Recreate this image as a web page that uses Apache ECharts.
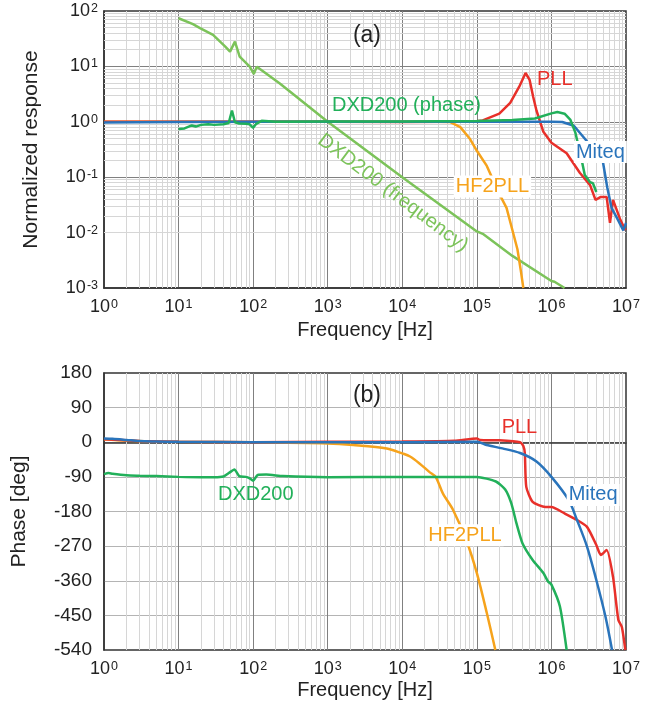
<!DOCTYPE html>
<html><head><meta charset="utf-8">
<script src="https://cdn.jsdelivr.net/npm/echarts@6/dist/echarts.min.js"></script>
<style>html,body{margin:0;padding:0;background:#fff}#c{width:647px;height:714px}</style>
</head><body><div id="c"></div>
<script>
// ---------- Panel (a): normalized response ----------
const magPllF = [1, 3, 10, 100, 1e3, 1e4, 5e4, 1e5, 1.2e5, 2e5, 2.8e5, 3.7e5, 4.5e5, 5.1e5, 5.7e5, 6.3e5, 7.8e5, 1e6, 1.6e6, 2.4e6, 3.3e6, 3.9e6, 4.6e6, 5.5e6, 6.1e6, 6.7e6, 8.4e6, 9.8e6];
const magPllV = [1.0, 1.0, 1.0, 1.0, 1.0, 0.99, 1.0, 1.02, 1.06, 1.4, 2.2, 4.3, 7.6, 5.7, 2.8, 1.6, 0.66, 0.42, 0.27, 0.12, 0.072, 0.039, 0.044, 0.044, 0.015, 0.039, 0.017, 0.011];

const magMiteqF = [1, 3, 10, 100, 1e3, 1e4, 1e5, 5e5, 1e6, 1.4e6, 2e6, 2.9e6, 3.8e6, 4.9e6, 5.6e6, 6.4e6, 7.8e6, 9.2e6, 1e7];
const magMiteqV = [0.97, 0.98, 0.99, 1.0, 1.0, 1.0, 1.0, 1.0, 1.0, 0.99, 0.85, 0.47, 0.3, 0.19, 0.066, 0.028, 0.017, 0.011, 0.015];

const magHf2F = [1, 10, 100, 1e3, 1e4, 3e4, 4.4e4, 6e4, 8e4, 1e5, 1.36e5, 2e5, 2.5e5, 3e5, 3.5e5, 3.9e5, 4.2e5];
const magHf2V = [1.0, 1.0, 1.0, 1.0, 1.0, 1.0, 0.99, 0.8, 0.5, 0.3, 0.16, 0.05, 0.028, 0.011, 0.005, 0.002, 0.001];

const magDxdPhF = [10, 12, 15, 17, 20, 25, 30, 40, 47, 52, 57, 65, 80, 90, 100, 110, 130, 200, 1e3, 1e4, 1e5, 3e5, 6e5, 1e6, 1.2e6, 1.5e6, 1.8e6, 2.1e6, 2.5e6, 2.8e6, 3.3e6, 3.6e6, 4e6];
const magDxdPhV = [0.74, 0.76, 0.86, 0.82, 0.88, 0.9, 0.88, 0.9, 0.95, 1.6, 0.98, 0.93, 0.92, 0.9, 0.78, 0.92, 1.04, 1.0, 1.01, 1.01, 1.03, 1.08, 1.15, 1.42, 1.5, 1.4, 1.08, 0.63, 0.23, 0.11, 0.081, 0.078, 0.054];

const magDxdFrF = [10, 15.6, 19.4, 29, 42, 49, 57, 66, 90, 102, 112, 228, 1e3, 1e4, 1e5, 1.2e5, 3e5, 1e6, 1.1e6, 1.5e6];
const magDxdFrV = [74, 58, 49, 37, 23, 18.5, 28, 15, 9.9, 7.3, 9.9, 4.9, 1.0, 0.1, 0.0105, 0.0095, 0.0038, 0.00134, 0.0013, 0.001];

// ---------- Panel (b): phase ----------
const phPllF = [1, 2, 3, 10, 100, 1e3, 1e4, 5e4, 1e5, 1.1e5, 2e5, 3.8e5, 4.2e5, 4.4e5, 4.6e5, 5.6e5, 8.3e5, 1e6, 1.5e6, 2.2e6, 3e6, 4e6, 4.6e6, 5.5e6, 6.7e6, 7.9e6, 8.8e6, 9.8e6];
const phPllV = [8, 5, 3, 1, 0, 1, 2, 4, 10, 6, 5, 0, -10, -29, -116, -155, -168, -168, -185, -202, -220, -267, -293, -280, -350, -462, -480, -540];

const phMiteqF = [1, 1.3, 2, 3, 5, 10, 100, 1e3, 1e4, 1e5, 1.35e5, 2.2e5, 3.8e5, 6.3e5, 1e6, 1.7e6, 2.2e6, 3e6, 4e6, 5.3e6, 6.5e6];
const phMiteqV = [10, 9, 6, 3, 2, 1, 0, 0, 0, 1, -7, -16, -28, -50, -90, -150, -202, -271, -358, -453, -540];

const phHf2F = [1, 2, 10, 100, 1e3, 2.2e3, 6.2e3, 1e4, 1.27e4, 1.7e4, 2.3e4, 2.8e4, 3.5e4, 4.8e4, 7.2e4, 1e5, 1.36e5, 1.77e5];
const phHf2V = [8, 4, 1, 0, -3, -7, -16, -29, -37, -55, -77, -90, -133, -176, -254, -340, -444, -540];

const phDxdF = [1, 1.15, 1.3, 2, 3, 5, 10, 20, 30, 40, 48, 56, 65, 80, 90, 100, 115, 150, 250, 1e3, 1e4, 1e5, 1.8e5, 2.4e5, 2.9e5, 3.4e5, 4.1e5, 5.6e5, 7.8e5, 9e5, 1e6, 1.3e6, 1.6e6];
const phDxdV = [-83, -80, -82, -86, -87, -88, -90, -91, -91, -89, -79, -71, -88, -90, -94, -100, -85, -84, -88, -91, -90, -90, -102, -123, -159, -211, -263, -306, -340, -362, -370, -427, -540];

// ---------- axis ticks ----------
const phaseTicks = [180, 90, 0, -90, -180, -270, -360, -450, -540];

const FONT = "'Liberation Sans', Arial, Helvetica, sans-serif";
const C = { pll: '#e8302a', miteq: '#2a74bb', hf2: '#f6a31c', dxd: '#22b05a', dxdf: '#7cc35a' };

const zip = (f, v) => f.map((x, i) => [x, v[i]]);

function minorVals(d0, d1) {
  const out = [];
  for (let d = d0; d <= d1; d++) for (let k = 2; k <= 9; k++) out.push(+(k * Math.pow(10, d)).toPrecision(3));
  return out;
}

const powFmt = v => '{b|10}{s|' + Math.round(Math.log10(v)) + '}';
const richPow = {
  b: { fontSize: 18, fontFamily: FONT, color: '#222', lineHeight: 20 },
  s: { fontSize: 12.5, fontFamily: FONT, color: '#222', lineHeight: 13, verticalAlign: 'top', padding: [1, 0, 0, 1] }
};

function xAxisDef(gi, gap) {
  return {
    gridIndex: gi, type: 'log', logBase: 10, min: 1, max: 1e7,
    name: 'Frequency [Hz]', nameLocation: 'middle', nameGap: gap,
    nameTextStyle: { fontSize: 20, color: '#222', fontFamily: FONT },
    axisLine: { show: true, lineStyle: { color: '#333', width: 1.5 } },
    axisTick: { show: false },
    axisLabel: { formatter: powFmt, rich: richPow, margin: 9 },
    splitLine: { show: true, showMinLine: false, showMaxLine: false, lineStyle: { color: '#808080', width: 1 } }
  };
}

const gridLineStyle = { color: '#d6d6d6', width: 1, type: 'solid' };

function helper(gi, xMinor, yMinor, labels) {
  const ml = [];
  xMinor.forEach(v => ml.push({ xAxis: v }));
  yMinor.forEach(v => ml.push({ yAxis: v }));
  return {
    type: 'line', xAxisIndex: gi, yAxisIndex: gi, data: [], z: 1, silent: true,
    markLine: { z: 1, silent: true, symbol: ['none', 'none'], label: { show: false }, lineStyle: gridLineStyle, data: ml, animation: false, emphasis: { disabled: true } },
    markPoint: {
      z: 8, silent: true, symbol: 'circle', symbolSize: 0, animation: false,
      data: labels.map(l => ({
        name: l.t, coord: l.c,
        label: Object.assign({
          show: true, formatter: '{b}', position: 'inside', align: l.align || 'left', verticalAlign: 'middle',
          color: l.color, fontSize: l.size || 20, fontFamily: FONT
        }, l.bg ? { backgroundColor: '#fff', padding: [1, 2] } : {}, l.rot ? { rotate: l.rot } : {})
      }))
    }
  };
}

function lineSeries(gi, data, color, z, smooth) {
  return {
    type: 'line', xAxisIndex: gi, yAxisIndex: gi, data: data, showSymbol: false, symbol: 'none',
    smooth: smooth || 0, clip: true, z: z, silent: true, animation: false,
    lineStyle: { color: color, width: 2.5 }
  };
}

const labelsA = [
  { t: '(a)', c: [3.36e3, 36], color: '#222', size: 23, align: 'center' },
  { t: 'PLL', c: [6.4e5, 5.9], color: C.pll },
  { t: 'DXD200 (phase)', c: [1.14e3, 2.0], color: C.dxd },
  { t: 'Miteq', c: [2.0e6, 0.285], color: C.miteq, bg: true },
  { t: 'HF2PLL', c: [4.9e4, 0.0676], color: C.hf2, bg: true },
  { t: 'DXD200 (frequency)', c: [7.5e3, 0.052], color: C.dxdf, align: 'center', rot: -37 }
];
const labelsB = [
  { t: '(b)', c: [3.36e3, 120], color: '#222', size: 23, align: 'center' },
  { t: 'PLL', c: [2.15e5, 38], color: C.pll },
  { t: 'Miteq', c: [1.6e6, -137], color: C.miteq, bg: true },
  { t: 'HF2PLL', c: [2.1e4, -242], color: C.hf2, bg: true },
  { t: 'DXD200', c: [33.8, -137], color: C.dxd }
];

const option = {
  backgroundColor: '#fff',
  animation: false,
  textStyle: { fontFamily: FONT },
  grid: [
    { left: 104, top: 11, width: 522, height: 277, show: true, borderColor: '#333', borderWidth: 1.5, backgroundColor: '#fff' },
    { left: 104, top: 373, width: 522, height: 277, show: true, borderColor: '#333', borderWidth: 1.5, backgroundColor: '#fff' }
  ],
  xAxis: [xAxisDef(0, 32), xAxisDef(1, 30)],
  yAxis: [
    {
      gridIndex: 0, type: 'log', logBase: 10, min: 1e-3, max: 1e2,
      name: 'Normalized response', nameLocation: 'middle', nameGap: 62, nameRotate: 90,
      nameTextStyle: { fontSize: 21, color: '#222', fontFamily: FONT },
      axisLine: { show: true, lineStyle: { color: '#333', width: 1.5 } },
      axisTick: { show: false },
      axisLabel: { formatter: powFmt, rich: richPow, margin: 6 },
      splitLine: { show: true, showMinLine: false, showMaxLine: false, lineStyle: { color: '#808080', width: 1 } }
    },
    {
      gridIndex: 1, type: 'value', min: phaseTicks[phaseTicks.length - 1], max: phaseTicks[0], interval: 90,
      name: 'Phase [deg]', nameLocation: 'middle', nameGap: 74, nameRotate: 90,
      nameTextStyle: { fontSize: 21, color: '#222', fontFamily: FONT },
      axisLine: { show: true, lineStyle: { color: '#333', width: 1.5 } },
      axisTick: { show: false },
      axisLabel: { fontSize: 19, color: '#222', fontFamily: FONT, margin: 12 },
      splitLine: { show: true, showMinLine: false, showMaxLine: false, lineStyle: { color: '#b4b4b4', width: 1 } }
    }
  ],
  series: [
    helper(0, minorVals(0, 6), minorVals(-3, 1), labelsA),
    lineSeries(0, zip(magDxdFrF, magDxdFrV), C.dxdf, 3),
    lineSeries(0, zip(magHf2F, magHf2V), C.hf2, 4),
    lineSeries(0, zip(magPllF, magPllV), C.pll, 5),
    lineSeries(0, zip(magMiteqF, magMiteqV), C.miteq, 6),
    lineSeries(0, zip(magDxdPhF, magDxdPhV), C.dxd, 7),
    helper(1, minorVals(0, 6), [], labelsB),
    lineSeries(1, zip(phHf2F, phHf2V), C.hf2, 4, 0.3),
    lineSeries(1, zip(phPllF, phPllV), C.pll, 5, 0.2),
    lineSeries(1, zip(phMiteqF, phMiteqV), C.miteq, 6, 0.3),
    lineSeries(1, zip(phDxdF, phDxdV), C.dxd, 7, 0.2)
  ]
};

const chart = echarts.init(document.getElementById('c'), null, { renderer: 'canvas' });
chart.setOption(option);
</script></body></html>
